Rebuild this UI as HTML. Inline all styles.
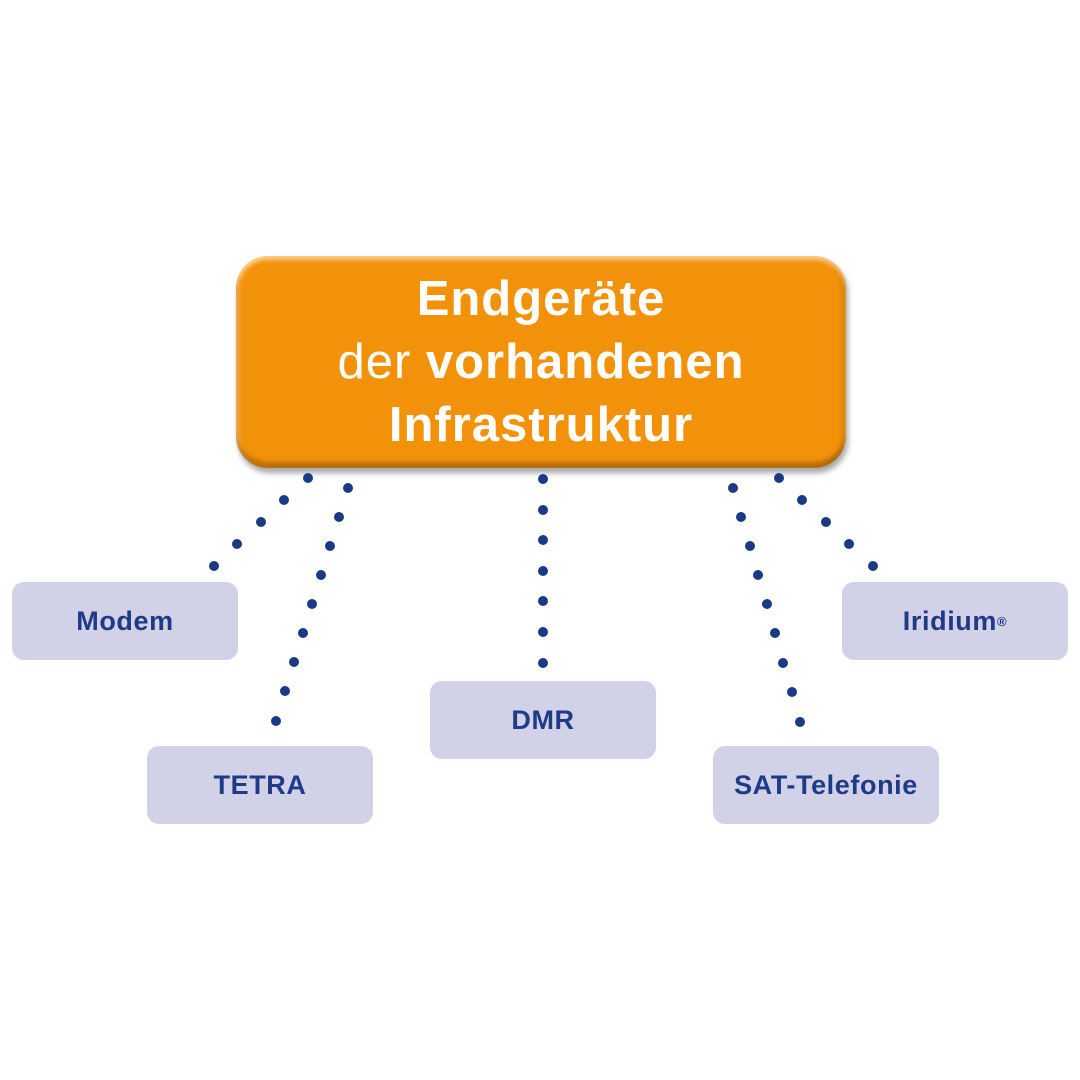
<!DOCTYPE html>
<html><head><meta charset="utf-8"><style>
body{margin:0;width:1080px;height:1080px;background:#fff;position:relative;overflow:hidden;font-family:"Liberation Sans",sans-serif}
.main{position:absolute;left:236px;top:256px;width:610px;height:212px;border-radius:32px;background:#f2920a;
box-shadow:inset 0 4px 4px rgba(255,220,170,.8),inset 0 -6px 5px rgba(140,80,0,.55),inset 4px 0 4px rgba(255,200,140,.4),inset -4px 0 4px rgba(150,90,0,.3),2px 5px 6px rgba(0,0,0,.35);
color:#fff;text-align:center;font-size:49px;letter-spacing:1px;line-height:63px;padding-top:12px;box-sizing:border-box}
.main b{font-weight:bold}
.n{position:absolute;width:226px;height:78px;border-radius:12px;background:#d1d1e8;color:#1f3a86;font-weight:bold;font-size:27px;letter-spacing:0.6px;display:flex;align-items:center;justify-content:center}
sup{font-size:13px;vertical-align:10px}
</style></head><body>
<div class="main"><b>Endgeräte</b><br>der <b>vorhandenen</b><br><b>Infrastruktur</b></div>
<svg width="1080" height="1080" style="position:absolute;left:0;top:0" fill="#1b3a86">
<g>
<circle cx="308" cy="478" r="5"/><circle cx="284" cy="500" r="5"/><circle cx="261" cy="522" r="5"/><circle cx="237" cy="544" r="5"/><circle cx="214" cy="566" r="5"/>
<circle cx="348" cy="488" r="5"/><circle cx="339" cy="517" r="5"/><circle cx="330" cy="546" r="5"/><circle cx="321" cy="575" r="5"/><circle cx="312" cy="604" r="5"/><circle cx="303" cy="633" r="5"/><circle cx="294" cy="662" r="5"/><circle cx="285" cy="691" r="5"/><circle cx="276" cy="721" r="5"/>
<circle cx="543" cy="479" r="5"/><circle cx="543" cy="510" r="5"/><circle cx="543" cy="540" r="5"/><circle cx="543" cy="571" r="5"/><circle cx="543" cy="601" r="5"/><circle cx="543" cy="632" r="5"/><circle cx="543" cy="663" r="5"/>
<circle cx="733" cy="488" r="5"/><circle cx="741" cy="517" r="5"/><circle cx="750" cy="546" r="5"/><circle cx="758" cy="575" r="5"/><circle cx="767" cy="604" r="5"/><circle cx="775" cy="633" r="5"/><circle cx="783" cy="663" r="5"/><circle cx="792" cy="692" r="5"/><circle cx="800" cy="722" r="5"/>
<circle cx="779" cy="478" r="5"/><circle cx="802" cy="500" r="5"/><circle cx="826" cy="522" r="5"/><circle cx="849" cy="544" r="5"/><circle cx="873" cy="566" r="5"/>
</g></svg>
<div class="n" style="left:12px;top:582px">Modem</div>
<div class="n" style="left:147px;top:746px">TETRA</div>
<div class="n" style="left:430px;top:681px">DMR</div>
<div class="n" style="left:713px;top:746px">SAT-Telefonie</div>
<div class="n" style="left:842px;top:582px">Iridium<sup>®</sup></div>
</body></html>
